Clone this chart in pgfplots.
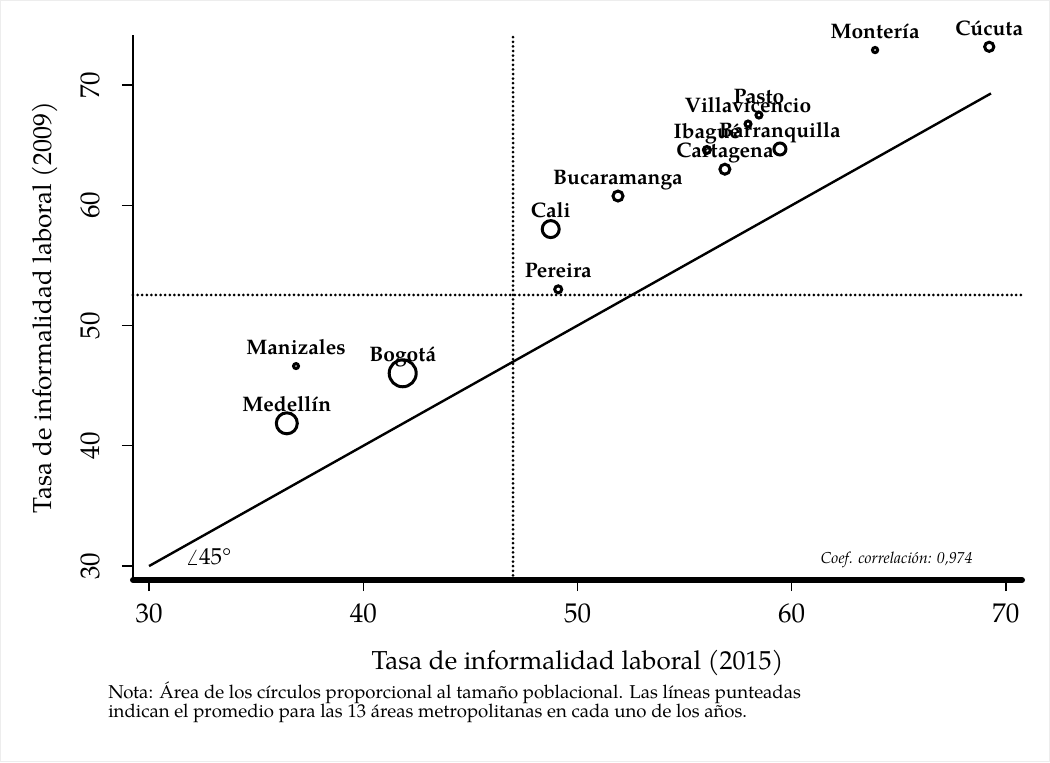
\documentclass[border=0pt]{standalone}
\usepackage{fontspec}
\setmainfont{TeX Gyre Pagella}
\usepackage{pgfplots}
\usepackage{pgfplotstable}
\pgfplotsset{compat=1.18}

% x = 2015, y = 2009, r = circle radius (pt), lab = area
\pgfplotstableread{
x     y     r    lab
69.22 73.18 2.3  Cúcuta
63.89 72.91 1.3  Montería
58.47 67.50 1.5  Pasto
57.96 66.76 1.5  Villavicencio
59.45 64.68 3.0  Barranquilla
56.04 64.60 1.75 Ibagué
56.88 63.00 2.5  Cartagena
51.89 60.77 2.5  Bucaramanga
48.75 58.02 4.25 Cali
49.10 53.01 1.75 Pereira
36.86 46.63 1.25 Manizales
41.84 46.03 6.75 Bogotá
36.43 41.87 5.25 Medellín
}\cities

\begin{document}
\begin{tikzpicture}
\begin{axis}[
  at={(0pt,0pt)}, anchor=south west,
  scale only axis, width=444.5pt, height=272.5pt,
  xmin=29.25, xmax=70.75, ymin=28.84, ymax=74.16,
  axis x line*=bottom, axis y line*=left,
  x axis line style={line width=3pt, line cap=round, -},
  y axis line style={line width=0.7pt, -},
  xtick={30,40,...,70}, ytick={30,40,...,70},
  tick align=outside, major tick length=5.5pt,
  tick style={black, line width=0.7pt},
  /pgf/number format/assume math mode=true,
  ticklabel style={font=\fontsize{13.5}{16}\selectfont},
  xticklabel style={inner sep=0pt, anchor=north},
  yticklabel style={rotate=90, inner sep=0pt, anchor=south},
  xticklabel shift=6pt, yticklabel shift=11pt,
  xlabel={Tasa de informalidad laboral (2015)},
  ylabel={Tasa de informalidad laboral (2009)},
  label style={font=\fontsize{13}{15}\selectfont, inner sep=0pt},
  xlabel style={at={(axis description cs:0.5,-0.1651)}, anchor=base},
  ylabel style={at={(axis description cs:-0.0922,0.5)}, anchor=base},
  clip=false,
]
% promedios
\addplot[black, line width=1.5pt, line cap=round, dash pattern=on 0pt off 2.3pt]
  coordinates {(46.99,28.84) (46.99,74.16)};
\addplot[black, line width=1.5pt, line cap=round, dash pattern=on 0pt off 2.3pt]
  coordinates {(29.25,52.54) (70.75,52.54)};
% linea de 45 grados
\addplot[black, line width=1.2pt] coordinates {(30,30) (69.3,69.3)};

% circles: radius from column r
\addplot[scatter, only marks, mark=o,
  point meta=explicit, point meta min=0, point meta max=10,
  scatter/@pre marker code/.code={%
    \pgfmathsetmacro\rr{\pgfplotspointmetatransformed/100}%
    \scope[draw=black, line width=1.5pt, mark size=\rr pt]},
  scatter/@post marker code/.code={\endscope},
] table[x=x, y=y, meta=r] {\cities};

% area names
\addplot[only marks, mark=none,
  point meta=explicit symbolic,
  nodes near coords,
  every node near coord/.append style={font=\fontsize{10.5}{12}\selectfont\bfseries,
    text=black, inner sep=0pt, text depth=0pt, anchor=south, yshift=5.5pt},
] table[x=x, y=y, meta=lab] {\cities};

\node[anchor=base east, inner sep=0pt, font=\fontsize{7.9}{10}\selectfont\itshape]
  at (axis cs:68.46,30.25) {Coef. correlación: 0,974};
\node[anchor=base west, inner sep=0pt, font=\fontsize{11.5}{13}\selectfont]
  at (axis cs:31.7,30.1) {$\angle$45°};
\end{axis}

\node[anchor=base west, inner sep=0pt, font=\fontsize{9.3}{10}\selectfont] at (-12.5pt,-59.25pt)
  {Nota: Área de los círculos proporcional al tamaño poblacional. Las líneas punteadas};
\node[anchor=base west, inner sep=0pt, font=\fontsize{9.3}{10}\selectfont] at (-12.5pt,-68.5pt)
  {indican el promedio para las 13 áreas metropolitanas en cada uno de los años.};

\pgfresetboundingbox
\path[use as bounding box] (-66.5pt,-91pt) rectangle (458.5pt,290pt);
\draw[black!7, line width=0.5pt] (-66.25pt,-90.75pt) rectangle (458.25pt,289.75pt);
\end{tikzpicture}
\end{document}
